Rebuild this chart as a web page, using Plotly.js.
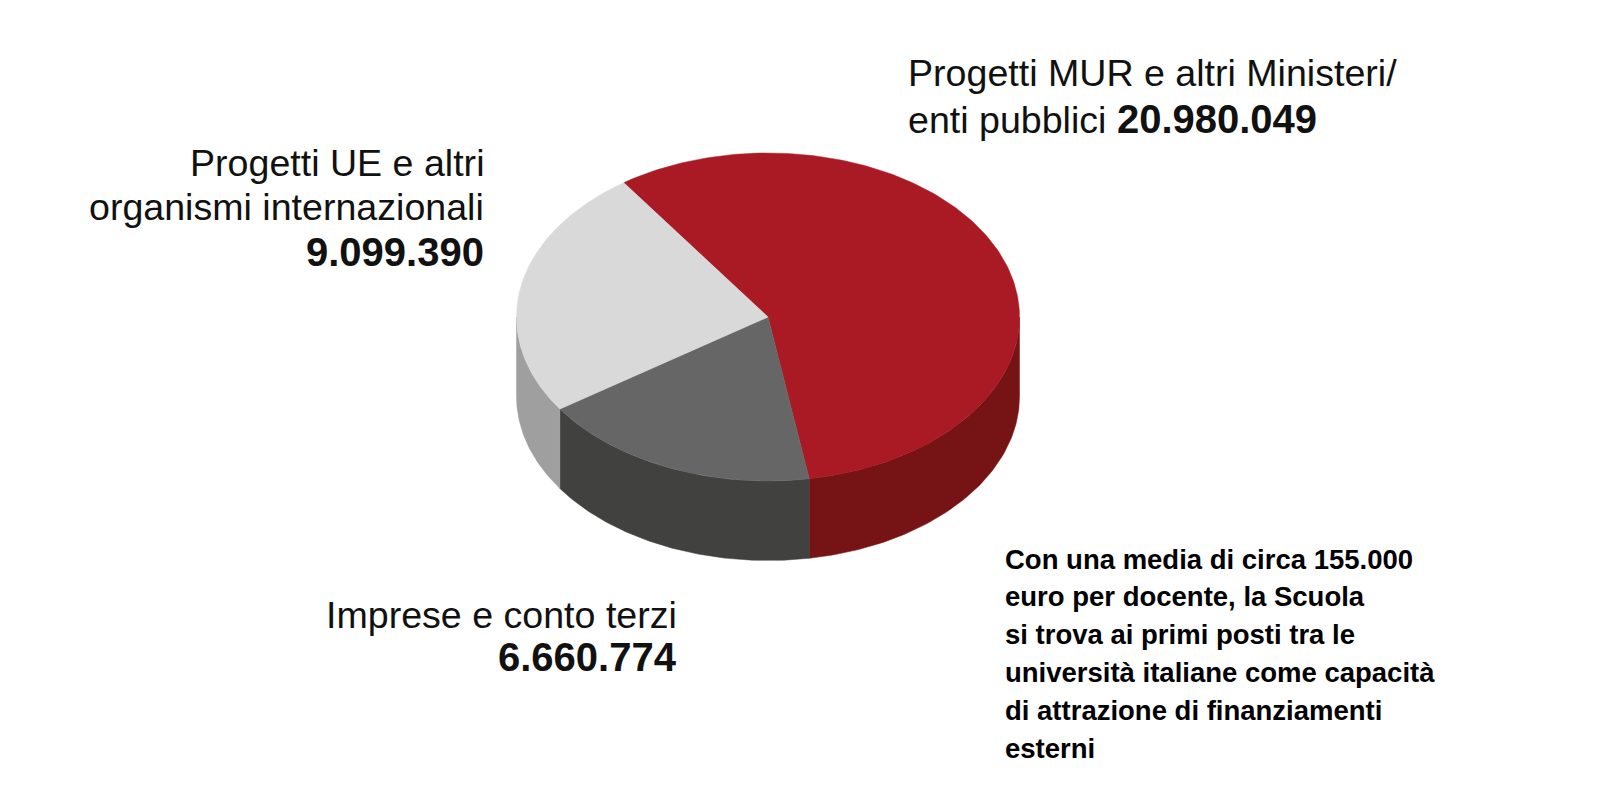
<!DOCTYPE html>
<html>
<head>
<meta charset="utf-8">
<script src="https://cdn.plot.ly/plotly-3.0.1.min.js"></script>
<style>html,body{margin:0;padding:0;background:#fff}#chart{width:1600px;height:800px}</style>
</head>
<body>
<div id="chart"></div>
<script>
// ---- data ----
const categories = ["Progetti MUR e altri Ministeri/enti pubblici", "Imprese e conto terzi", "Progetti UE e altri organismi internazionali"];
const values = [20980049, 6660774, 9099390];
const valueLabels = ["20.980.049", "6.660.774", "9.099.390"];
const topColors = ["#A91A25", "#666666", "#D9D9D9"];
const sideColors = ["#761314", "#414140", "#9F9F9F"];
const noteLines = [
  "Con una media di circa 155.000",
  "euro per docente, la Scuola",
  "si trova ai primi posti tra le",
  "università italiane come capacità",
  "di attrazione di finanziamenti",
  "esterni"
];

// ---- geometry of the 3D pie (pixel-like axis space) ----
const cx = 768, cy = 317, rx = 251.5, ry = 164, depth = 79.5, startAngle = 125;
const total = values.reduce((a, b) => a + b, 0);
const deg = Math.PI / 180;
function pt(t, dz) { return [cx + rx * Math.cos(t * deg), cy - ry * Math.sin(t * deg) + (dz || 0)]; }

// slice angle ranges (clockwise from startAngle)
const slices = [];
let cur = startAngle;
values.forEach((v, i) => {
  const span = 360 * v / total;
  slices.push({ a1: cur - span, a2: cur, i });
  cur -= span;
});

const traces = [];
// side walls (visible part: angles in lower half of ellipse)
slices.forEach(s => {
  [-360, 0, 360].forEach(sh => {
    const lo = Math.max(s.a1 + sh, 180), hi = Math.min(s.a2 + sh, 360);
    if (hi > lo) {
      const xs = [], ys = [];
      const n = 80;
      for (let k = 0; k <= n; k++) { const t = lo + (hi - lo) * k / n; const p = pt(t); xs.push(p[0]); ys.push(p[1]); }
      for (let k = n; k >= 0; k--) { const t = lo + (hi - lo) * k / n; const p = pt(t, depth); xs.push(p[0]); ys.push(p[1]); }
      xs.push(xs[0]); ys.push(ys[0]);
      traces.push({ type: "scatter", mode: "lines", x: xs, y: ys, fill: "toself", fillcolor: sideColors[s.i], line: { width: 0.5, color: sideColors[s.i] }, hoverinfo: "skip", showlegend: false });
    }
  });
});
// top faces
slices.forEach(s => {
  const xs = [cx], ys = [cy];
  const n = 200;
  for (let k = 0; k <= n; k++) { const t = s.a1 + (s.a2 - s.a1) * k / n; const p = pt(t); xs.push(p[0]); ys.push(p[1]); }
  xs.push(cx); ys.push(cy);
  traces.push({ type: "scatter", mode: "lines", x: xs, y: ys, fill: "toself", fillcolor: topColors[s.i], line: { width: 0.5, color: topColors[s.i] }, name: categories[s.i], text: valueLabels[s.i], hoverinfo: "name+text", showlegend: false });
});

const light = { family: "Liberation Sans, Arial, sans-serif", size: 37.6, color: "#111111" };
const noteF = { family: "Liberation Sans, Arial, sans-serif", size: 27.5, color: "#000000" };
function big(v) { return '<span style="font-size:40px"><b>' + v + '</b></span>'; }
function ann(text, x, y, xanchor, font) {
  return { text, x, y, xref: "x", yref: "y", xanchor, yanchor: "middle", showarrow: false, font, align: xanchor };
}
const annotations = [
  ann("Progetti MUR e altri Ministeri/", 906, 73, "left", light),
  ann("enti pubblici " + big(valueLabels[0]), 906, 119, "left", light),
  ann("Progetti UE e altri", 486, 163, "right", light),
  ann("organismi internazionali", 486, 207, "right", light),
  ann(big(valueLabels[2]), 486, 252, "right", light),
  ann("Imprese e conto terzi", 679, 615, "right", light),
  ann(big(valueLabels[1]), 679, 657, "right", light)
];
noteLines.forEach((l, k) => annotations.push(ann("<b>" + l + "</b>", 1003, 559 + k * 37.9, "left", noteF)));

const layout = {
  width: 1600, height: 800,
  margin: { l: 0, r: 0, t: 0, b: 0 },
  paper_bgcolor: "#ffffff", plot_bgcolor: "#ffffff",
  xaxis: { range: [0, 1600], visible: false, fixedrange: true },
  yaxis: { range: [800, 0], visible: false, fixedrange: true },
  annotations,
  showlegend: false
};
Plotly.newPlot("chart", traces, layout, { displayModeBar: false, staticPlot: true });
</script>
</body>
</html>
